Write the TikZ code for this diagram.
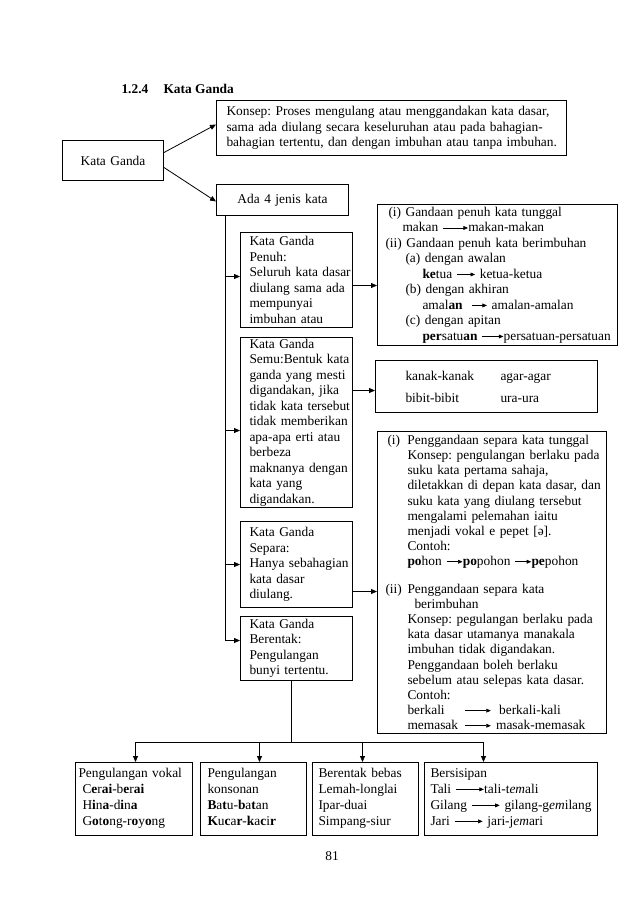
\documentclass[tikz,border=0pt]{standalone}
\usepackage{fontspec}
\setmainfont{Liberation Serif}
\usetikzlibrary{arrows.meta,calc}
\frenchspacing
\newcommand\ra[1]{\tikz[baseline=-0.28em]\draw[line width=0.6pt,-{Triangle[length=4.5pt,width=3.8pt]}] (0pt,0pt) -- (#1pt,0pt);}
\newcommand\bxs[1]{\frenchspacing\parindent=0pt\leftskip=#1pt\rightskip=-15pt plus 1fil\relax}
\begin{document}
\begin{tikzpicture}[x=1pt,y=-1pt,
  font=\fontsize{13.4}{15.5}\selectfont,
  bx/.style={draw, line width=1pt, inner sep=0pt, anchor=north west, align=left},
  cbx/.style={draw, line width=1pt, inner sep=0pt, anchor=north west, align=center},
  arr/.style={line width=0.8pt, -{Triangle[length=6pt,width=5pt]}},
  ln/.style={line width=0.8pt}]
\useasboundingbox (0,0) rectangle (638,903);
\fill[white] (0,0) rectangle (638,903);

\node[anchor=base west, font=\fontsize{13.4}{15.5}\selectfont\bfseries] (t1) at (118,93) {1.2.4};
\node[anchor=base west, font=\fontsize{13.4}{15.5}\selectfont\bfseries] (t2) at (160,93) {Kata Ganda};

\node[bx, text width=350pt, minimum height=55pt] (concept) at (216,100) {\bxs{10}Konsep: Proses mengulang atau menggandakan kata dasar,\\ sama ada diulang secara keseluruhan atau pada bahagian-\\ bahagian tertentu, dan dengan imbuhan atau tanpa imbuhan.\par};

\node[cbx, text width=101pt, minimum height=40pt] (kg) at (62,140) {Kata Ganda};
\node[cbx, text width=132pt, minimum height=31pt] (ada) at (216,184) {Ada 4 jenis kata};

\node[bx, text width=112pt, minimum height=95pt] (penuh) at (240,232) {\bxs{9}Kata Ganda\\ Penuh:\\ Seluruh kata dasar\\ diulang sama ada\\ mempunyai\\ imbuhan atau\par};
\node[bx, text width=112pt, minimum height=170pt] (semu) at (240,337) {\bxs{9}Kata Ganda\\ Semu:Bentuk kata\\ ganda yang mesti\\ digandakan, jika\\ tidak kata tersebut\\ tidak memberikan\\ apa-apa erti atau\\ berbeza\\ maknanya dengan\\ kata yang\\ digandakan.\par};
\node[bx, text width=112pt, minimum height=86pt] (separa) at (240,521) {\bxs{9}Kata Ganda\\ Separa:\\ Hanya sebahagian\\ kata dasar\\ diulang.\par};
\node[bx, text width=112pt, minimum height=64pt] (berentak) at (240,616) {\bxs{9}Kata Ganda\\ Berentak:\\ Pengulangan\\ bunyi tertentu.\par};

\node[bx, text width=240pt, minimum height=141pt] (gp) at (377,204) {\bxs{8}\hspace*{3pt}(i) Gandaan penuh kata tunggal\\
\hspace*{17pt}makan \ra{25}makan-makan\\
(ii) Gandaan penuh kata berimbuhan\\
\hspace*{20pt}(a) dengan awalan\\
\hspace*{37pt}\textbf{ke}tua \ra{18} ketua-ketua\\
\hspace*{20pt}(b) dengan akhiran\\
\hspace*{37pt}amal\textbf{an}\ \ \ra{15} amalan-amalan\\
\hspace*{20pt}(c) dengan apitan\\
\hspace*{37pt}\textbf{per}satu\textbf{an} \ra{21}persatuan-persatuan\par};

\node[bx, text width=222pt, minimum height=52pt] (kk) at (375,360) {\bxs{30}\baselineskip=22pt \makebox[95pt][l]{kanak-kanak}agar-agar\\ \makebox[95pt][l]{bibit-bibit}ura-ura\par};

\node[bx, text width=229pt, minimum height=302pt] (sp) at (377,431) {\bxs{10}\baselineskip=15.1pt
\makebox[20pt][l]{(i)}Penggandaan separa kata tunggal\\
\hspace*{20pt}Konsep: pengulangan berlaku pada\\
\hspace*{20pt}suku kata pertama sahaja,\\
\hspace*{20pt}diletakkan di depan kata dasar, dan\\
\hspace*{20pt}suku kata yang diulang tersebut\\
\hspace*{20pt}mengalami pelemahan iaitu\\
\hspace*{20pt}menjadi vokal e pepet [ə].\\
\hspace*{20pt}Contoh:\\
\hspace*{20pt}\textbf{po}hon \ra{16}\textbf{po}pohon \ra{16}\textbf{pe}pohon\\[13pt]
\hspace*{-2pt}\makebox[22pt][l]{(ii)}Penggandaan separa kata\\
\hspace*{27pt}berimbuhan\\
\hspace*{20pt}Konsep: pegulangan berlaku pada\\
\hspace*{20pt}kata dasar utamanya manakala\\
\hspace*{20pt}imbuhan tidak digandakan.\\
\hspace*{20pt}Penggandaan boleh berlaku\\
\hspace*{20pt}sebelum atau selepas kata dasar.\\
\hspace*{20pt}Contoh:\\
\hspace*{20pt}\makebox[57pt][l]{berkali}\ra{26}\hspace{8pt}berkali-kali\\
\hspace*{20pt}\makebox[57pt][l]{memasak}\ra{26}\hspace{5pt}masak-memasak\par};

\node[bx, text width=117pt, minimum height=73pt] (b1) at (75,762) {\bxs{3}\baselineskip=16pt Pengulangan vokal\\
\hspace*{4pt}C\textbf{e}r\textbf{ai}-b\textbf{e}r\textbf{ai}\\
\hspace*{4pt}H\textbf{i}n\textbf{a}-d\textbf{i}n\textbf{a}\\
\hspace*{4pt}G\textbf{o}t\textbf{o}ng-r\textbf{o}y\textbf{o}ng\strut\par};
\node[bx, text width=106pt, minimum height=73pt] (b2) at (200,762) {\bxs{7}\baselineskip=16pt Pengulangan\\
konsonan\\
\textbf{B}a\textbf{t}u-\textbf{b}a\textbf{t}an\\
\textbf{K}u\textbf{c}a\textbf{r}-\textbf{k}a\textbf{c}i\textbf{r}\strut\par};
\node[bx, text width=106pt, minimum height=73pt] (b3) at (312,762) {\bxs{6}\baselineskip=16pt Berentak bebas\\
Lemah-longlai\\
Ipar-duai\\
Simpang-siur\strut\par};
\node[bx, text width=173pt, minimum height=73pt] (b4) at (424,762) {\bxs{6}\baselineskip=16pt Bersisipan\\
Tali \ra{28}tali-t\emph{em}ali\\
Gilang \ra{28} gilang-g\emph{em}ilang\\
Jari \ra{28} jari-j\emph{em}ari\strut\par};

\node (pg) at (332,856) {81};

% connectors
\draw[arr] ([yshift=8pt]kg.east) -- ([yshift=3.5pt]concept.west);
\draw[arr] ([yshift=-7pt]kg.east) -- ([yshift=-1.5pt]ada.west);

\coordinate (spTop) at ([xshift=9pt]ada.south west);
\draw[arr] (spTop) |- ([yshift=3.5pt]penuh.west);
\draw[arr] (spTop) |- ([yshift=-8pt]semu.west);
\draw[arr] (spTop) |- (separa.west);
\draw[arr] (spTop) |- ([yshift=8pt]berentak.west);

\draw[arr] ([yshift=-5.5pt]penuh.east) -- ([yshift=-5.5pt]penuh.east -| gp.west);
\draw[arr] ([yshift=32pt]semu.east) -- ([yshift=32pt]semu.east -| kk.west);
\draw[arr] ([yshift=-27pt]separa.east) -- ([yshift=-27pt]separa.east -| sp.west);

\coordinate (busy) at (0,742);
\coordinate (bt) at ([xshift=-5pt]berentak.south);
\coordinate (a1) at ([xshift=1.5pt]b1.north);
\coordinate (a2) at ([xshift=6pt]b2.north);
\coordinate (a3) at ([xshift=-3pt]b3.north);
\coordinate (a4) at ([xshift=-27.5pt]b4.north);
\draw[ln] (bt) -- (bt |- busy);
\draw[arr] (bt |- busy) -| (a1);
\draw[arr] (bt |- busy) -| (a4);
\draw[arr] (a2 |- busy) -- (a2);
\draw[arr] (a3 |- busy) -- (a3);
\end{tikzpicture}
\end{document}
